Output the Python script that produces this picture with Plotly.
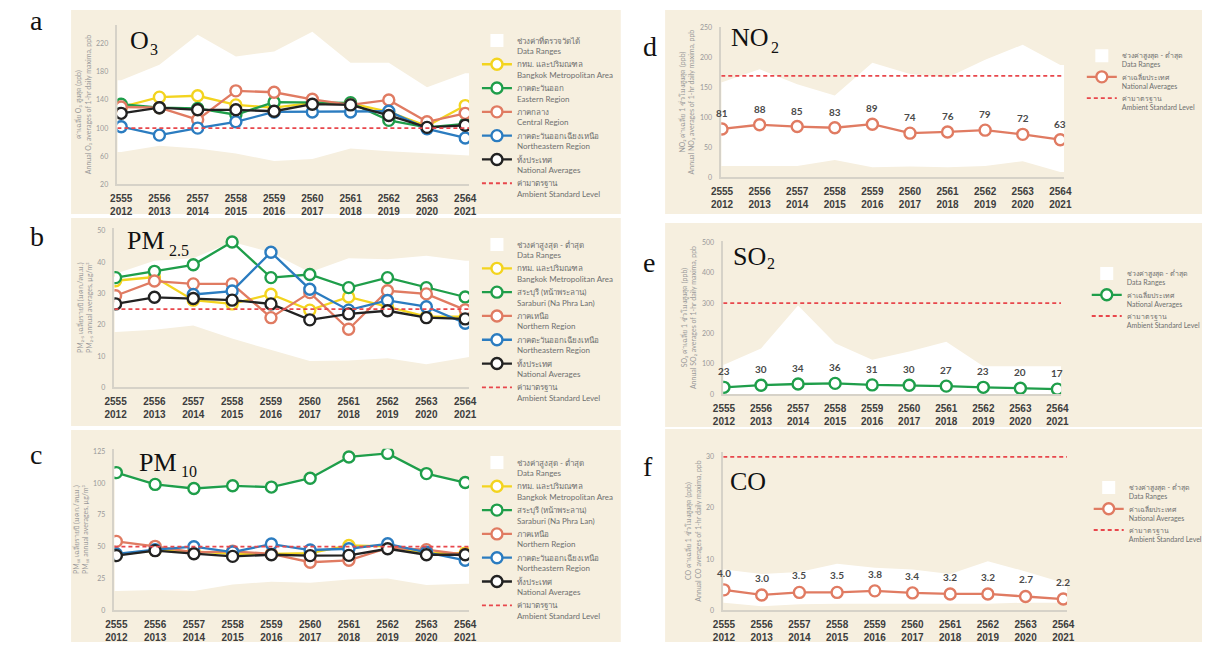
import plotly.graph_objects as go

W, H = 1210, 645

# ---------------- data ----------------
years_be = ["2555", "2556", "2557", "2558", "2559", "2560", "2561", "2562", "2563", "2564"]
years_ce = ["2012", "2013", "2014", "2015", "2016", "2017", "2018", "2019", "2020", "2021"]

# O3, annual averages of 1-hr daily maxima (ppb)
o3_range_max = [168, 190, 233, 202, 209, 237, 193, 193, 158, 178]
o3_range_min = [66, 75, 71, 64, 53, 56, 71, 67, 64, 61]
o3_bangkok = [130, 144, 146, 133, 129, 136, 135, 123, 103, 132]
o3_eastern = [134, 129, 128, 119, 137, 136, 136, 111, 101, 106]
o3_central = [130, 129, 112, 153, 151, 141, 133, 140, 109, 121]
o3_northeast = [102, 90, 100, 109, 123, 123, 123, 124, 99, 86]
o3_national = [121, 129, 126, 126, 124, 134, 133, 118, 101, 104]
o3_standard = 100

# PM2.5 annual averages (ug/m3)
pm25_range_max = [36.3, 40.5, 41.3, 46.5, 43.2, 36.8, 41.3, 41.0, 42.1, 40.5]
pm25_range_min = [17.7, 18.4, 19.8, 15.6, 12.1, 8.4, 8.6, 9.3, 7.4, 9.7]
pm25_bangkok = [34.1, 35.3, 27.9, 26.7, 29.8, 24.7, 28.9, 25.8, 22.6, 22.6]
pm25_saraburi = [35.1, 37.1, 39.2, 46.5, 35.1, 36.1, 31.9, 35.1, 31.9, 28.9]
pm25_northern = [29.3, 34.0, 33.1, 33.1, 22.3, 30.3, 18.6, 30.9, 29.9, 24.8]
pm25_northeast = [None, None, 29.7, 30.8, 43.2, 31.4, 24.7, 27.8, 25.8, 20.5]
pm25_national = [26.7, 28.8, 28.4, 27.9, 26.7, 21.6, 23.5, 24.5, 22.3, 21.9]
pm25_standard = 25

# PM10 annual averages (ug/m3)
pm10_range_max = [109, 100, 97, 99, 98, 105, 121, 124, 108, 101]
pm10_range_min = [15.1, 15.9, 15.1, 20.3, 22.4, 21.6, 24.2, 25.0, 19.8, 20.8]
pm10_bangkok = [43.7, 47.1, 46.4, 44.3, 44.3, 45.0, 51.0, 50.3, 45.0, 45.0]
pm10_saraburi = [108.3, 99.0, 95.8, 97.9, 96.9, 103.9, 120.6, 123.4, 107.5, 100.5]
pm10_northern = [54.2, 50.3, 45.6, 46.4, 44.3, 37.8, 39.3, 49.0, 47.7, 43.7]
pm10_northeast = [44.3, 47.7, 50.0, 45.8, 52.1, 47.4, 48.4, 52.3, 45.6, 39.3]
pm10_national = [43.0, 46.9, 44.5, 42.4, 43.7, 43.0, 43.2, 48.4, 43.7, 43.7]
pm10_standard = 50

# NO2, annual averages of 1-hr daily maxima (ppb)
no2_range_max = [159, 181, 156, 137, 192, 173, 167, 197, 222, 188]
no2_range_min = [19, 19, 19, 29, 17, 18, 17, 19, 27, 9]
no2_national = [81, 88, 85, 83, 89, 74, 76, 79, 72, 63]
no2_standard = 170

# SO2, annual averages of 1-hr daily maxima (ppb)
so2_range_max = [97, 151, 292, 168, 114, 141, 173, 92, 92, 92]
so2_range_min = [0, 0, 0, 0, 0, 0, 0, 0, 0, 0]
so2_national = [23, 30, 34, 36, 31, 30, 27, 23, 20, 17]
so2_standard = 300

# CO, annual averages of 1-hr daily maxima
co_range_max = [8.0, 7.1, 7.5, 9.1, 8.3, 8.0, 7.1, 9.6, 7.6, 5.4]
co_range_min = [1.5, 0.8, 1.2, 1.3, 1.3, 1.3, 1.3, 1.3, 1.5, 1.5]
co_national = [4.0, 3.0, 3.5, 3.5, 3.8, 3.4, 3.2, 3.2, 2.7, 2.2]
co_standard = 30

# ---------------- styling ----------------
BEIGE = "#f6efdf"
YELLOW = "#f3d41f"
GREEN = "#1f9e4a"
SALMON = "#e07b62"
BLUE = "#2b7cc0"
BLACK = "#222222"
STD_RED = "#e8474c"
TICK_GREY = "#9a9a9a"
LEG_GREY = "#6f6f6f"
SANS = "Lato, 'Noto Sans', 'DejaVu Sans', sans-serif"
SERIF = "'Liberation Serif', 'Times New Roman', serif"

TH_RANGE_ALL = "ช่วงค่าที่ตรวจวัดได้"
TH_RANGE = "ช่วงค่าสูงสุด - ต่ำสุด"
TH_STD = "ค่ามาตรฐาน"

fig = go.Figure()


def px_dom_x(x0, x1):
    return [x0 / W, x1 / W]


def px_dom_y(top, bottom):
    return [1 - bottom / H, 1 - top / H]


def add_panel(idx, box, xr, yr, yticks, ytitle):
    """Create axis pair number idx inside a pixel box (left, right, top, bottom)."""
    sx = "" if idx == 1 else str(idx)
    fig.layout["xaxis" + sx] = dict(
        domain=px_dom_x(box[0], box[1]), range=xr, anchor="y" + sx,
        tickmode="array", tickvals=list(range(len(years_be))),
        ticktext=[f"{a}<br>{b}" for a, b in zip(years_be, years_ce)],
        showgrid=False, zeroline=False, showline=True, linecolor="#d6d2c8", linewidth=1.5,
        ticks="", ticklabelstandoff=4,
        tickfont=dict(family="'Liberation Sans', Arial, sans-serif", size=10, color="#3d3d3d", weight=700),
    )
    fig.layout["yaxis" + sx] = dict(
        domain=px_dom_y(box[2], box[3]), range=yr, anchor="x" + sx,
        tickmode="array", tickvals=yticks,
        showgrid=False, zeroline=False, showline=True, linecolor="#d6d2c8", linewidth=1.5,
        ticks="", ticklabelstandoff=6,
        tickfont=dict(family=SANS, size=7, color=TICK_GREY),
        title=dict(text=ytitle, font=dict(family=SANS, size=7, color=TICK_GREY), standoff=4),
    )
    return "x" + sx, "y" + sx


def add_band(xa, ya, lo, hi, xr, leg):
    xs = [xr[0]] + list(range(len(lo))) + [xr[1]]
    lo_e = [lo[0]] + list(lo) + [lo[-1]]
    hi_e = [hi[0]] + list(hi) + [hi[-1]]
    fig.add_trace(go.Scatter(x=xs, y=lo_e, mode="lines", line=dict(width=0), xaxis=xa, yaxis=ya,
                             showlegend=False, hoverinfo="skip", legend=leg))
    fig.add_trace(go.Scatter(x=xs, y=hi_e, mode="lines", line=dict(width=0), fill="tonexty",
                             fillcolor="white", xaxis=xa, yaxis=ya, showlegend=False,
                             hoverinfo="skip", legend=leg))


def add_range_key(xa, ya, label, leg):
    fig.add_trace(go.Scatter(x=[None], y=[None], mode="markers", xaxis=xa, yaxis=ya,
                             marker=dict(symbol="square", size=13, color="white",
                                         line=dict(width=0)),
                             name=label, legend=leg))


def add_series(xa, ya, vals, color, label, leg):
    fig.add_trace(go.Scatter(x=list(range(len(vals))), y=vals, mode="lines+markers",
                             xaxis=xa, yaxis=ya, name=label, legend=leg,
                             line=dict(color=color, width=2.3),
                             marker=dict(symbol="circle", size=11, color="white",
                                         line=dict(color=color, width=2.4))))


def add_standard(xa, ya, value, xr, leg):
    fig.add_trace(go.Scatter(x=[xr[0], xr[1]], y=[value, value], mode="lines", xaxis=xa, yaxis=ya,
                             name=f"{TH_STD}<br>Ambient Standard Level", legend=leg,
                             line=dict(color=STD_RED, width=1.8, dash="4px,3px")))


def add_value_labels(xa, ya, vals, fmt, shift):
    for i, v in enumerate(vals):
        fig.add_annotation(x=i, y=v, xref=xa, yref=ya, text=format(v, fmt), showarrow=False,
                           yshift=shift, font=dict(family=SANS, size=10, color="#4a4a4a", weight=700))


def add_legend(name, x, y, size):
    fig.layout[name] = dict(x=x / W, y=1 - y / H, xanchor="left", yanchor="top",
                            bgcolor="rgba(0,0,0,0)", valign="top", traceorder="normal",
                            font=dict(family=SANS, size=size, color=LEG_GREY),
                            itemwidth=30, tracegroupgap=0)


def add_label(text, x, y, size):
    fig.add_annotation(xref="paper", yref="paper", x=x / W, y=1 - y / H, xanchor="left", yanchor="top",
                       text=text, showarrow=False, font=dict(family=SERIF, size=size, color="#111"))


# beige panel backgrounds
for (x0, x1, y0, y1) in [(62, 620, 7, 213), (62, 620, 217, 427), (62, 620, 431, 645),
                         (665, 1210, 7, 213), (665, 1210, 222, 428), (665, 1210, 430, 645)]:
    fig.add_shape(type="rect", xref="paper", yref="paper", x0=x0 / W, x1=x1 / W,
                  y0=1 - y1 / H, y1=1 - y0 / H, fillcolor=BEIGE, line=dict(width=0), layer="below")

# ---- panel a : O3 ----
xr = [-0.1, 9.1]
xa, ya = add_panel(1, (109, 466, 22, 183), xr, [20, 247], [20, 60, 100, 140, 180, 220],
                   "ค่าเฉลี่ย O₃ สูงสุด (ppb)<br>Annual O₃ averages of 1-hr daily maxima, ppb")
add_band(xa, ya, o3_range_min, o3_range_max, xr, "legend")
add_range_key(xa, ya, f"{TH_RANGE_ALL}<br>Data Ranges", "legend")
add_series(xa, ya, o3_bangkok, YELLOW, "กทม. และปริมณฑล<br>Bangkok Metropolitan Area", "legend")
add_series(xa, ya, o3_eastern, GREEN, "ภาคตะวันออก<br>Eastern Region", "legend")
add_series(xa, ya, o3_central, SALMON, "ภาคกลาง<br>Central Region", "legend")
add_series(xa, ya, o3_northeast, BLUE, "ภาคตะวันออกเฉียงเหนือ<br>Northeastern Region", "legend")
add_series(xa, ya, o3_national, BLACK, "ทั้งประเทศ<br>National Averages", "legend")
add_standard(xa, ya, o3_standard, xr, "legend")
add_legend("legend", 474, 26, 8)

# ---- panel b : PM2.5 ----
xr = [-0.03, 9.1]
xa, ya = add_panel(2, (106, 466, 227, 388), xr, [0, 51], [0, 10, 20, 30, 40, 50],
                   "PM₂.₅ เฉลี่ยรายปี (มคก./ลบ.ม.)<br>PM₂.₅ annual averages, µg/m³")
add_band(xa, ya, pm25_range_min, pm25_range_max, xr, "legend2")
add_range_key(xa, ya, f"{TH_RANGE}<br>Data Ranges", "legend2")
add_series(xa, ya, pm25_bangkok, YELLOW, "กทม. และปริมณฑล<br>Bangkok Metropolitan Area", "legend2")
add_series(xa, ya, pm25_saraburi, GREEN, "สระบุรี (หน้าพระลาน)<br>Saraburi (Na Phra Lan)", "legend2")
add_series(xa, ya, pm25_northern, SALMON, "ภาคเหนือ<br>Northern Region", "legend2")
add_series(xa, ya, pm25_northeast, BLUE, "ภาคตะวันออกเฉียงเหนือ<br>Northeastern Region", "legend2")
add_series(xa, ya, pm25_national, BLACK, "ทั้งประเทศ<br>National Averages", "legend2")
add_standard(xa, ya, pm25_standard, xr, "legend2")
add_legend("legend2", 474, 232, 8)

# ---- panel c : PM10 ----
xr = [-0.05, 9.1]
xa, ya = add_panel(3, (106, 466, 450, 613), xr, [0, 127], [0, 25, 50, 75, 100, 125],
                   "PM₁₀ เฉลี่ยรายปี (มคก./ลบ.ม.)<br>PM₁₀ annual averages, µg/m³")
add_band(xa, ya, pm10_range_min, pm10_range_max, xr, "legend3")
add_range_key(xa, ya, f"{TH_RANGE}<br>Data Ranges", "legend3")
add_series(xa, ya, pm10_bangkok, YELLOW, "กทม. และปริมณฑล<br>Bangkok Metropolitan Area", "legend3")
add_series(xa, ya, pm10_saraburi, GREEN, "สระบุรี (หน้าพระลาน)<br>Saraburi (Na Phra Lan)", "legend3")
add_series(xa, ya, pm10_northern, SALMON, "ภาคเหนือ<br>Northern Region", "legend3")
add_series(xa, ya, pm10_northeast, BLUE, "ภาคตะวันออกเฉียงเหนือ<br>Northeastern Region", "legend3")
add_series(xa, ya, pm10_national, BLACK, "ทั้งประเทศ<br>National Averages", "legend3")
add_standard(xa, ya, pm10_standard, xr, "legend3")
add_legend("legend3", 474, 452, 8)

# ---- panel d : NO2 ----
xr = [-0.02, 9.1]
xa, ya = add_panel(4, (722, 1070, 24, 176), xr, [0, 252], [0, 50, 100, 150, 200, 250],
                   "NO₂ ค่าเฉลี่ย 1 ชั่วโมงสูงสุด (ppb)<br>Annual NO₂ averages of 1-hr daily maxima, ppb")
add_band(xa, ya, no2_range_min, no2_range_max, xr, "legend4")
add_range_key(xa, ya, f"{TH_RANGE}<br>Data Ranges", "legend4")
add_series(xa, ya, no2_national, SALMON, "ค่าเฉลี่ยประเทศ<br>National Averages", "legend4")
add_standard(xa, ya, no2_standard, xr, "legend4")
add_value_labels(xa, ya, no2_national, "d", 16)
add_legend("legend4", 1088, 42, 7)

# ---- panel e : SO2 ----
xr = [-0.02, 9.1]
xa, ya = add_panel(5, (724, 1067, 240, 395), xr, [0, 505], [0, 100, 200, 300, 400, 500],
                   "SO₂ ค่าเฉลี่ย 1 ชั่วโมงสูงสุด (ppb)<br>Annual SO₂ averages of 1-hr daily maxima, ppb")
add_band(xa, ya, so2_range_min, so2_range_max, xr, "legend5")
add_range_key(xa, ya, f"{TH_RANGE}<br>Data Ranges", "legend5")
add_series(xa, ya, so2_national, GREEN, "ค่าเฉลี่ยประเทศ<br>National Averages", "legend5")
add_standard(xa, ya, so2_standard, xr, "legend5")
add_value_labels(xa, ya, so2_national, "d", 16)
add_legend("legend5", 1093, 262, 7)

# ---- panel f : CO ----
xr = [-0.02, 9.1]
xa, ya = add_panel(6, (724, 1073, 453, 613), xr, [0, 31], [0, 10, 20, 30],
                   "CO ค่าเฉลี่ย 1 ชั่วโมงสูงสุด (ppb)<br>Annual CO averages of 1-hr daily maxima, ppb")
add_band(xa, ya, co_range_min, co_range_max, xr, "legend6")
add_range_key(xa, ya, f"{TH_RANGE}<br>Data Ranges", "legend6")
add_series(xa, ya, co_national, SALMON, "ค่าเฉลี่ยประเทศ<br>National Averages", "legend6")
add_standard(xa, ya, co_standard, xr, "legend6")
add_value_labels(xa, ya, co_national, ".1f", 17)
add_legend("legend6", 1095, 478, 7)

# panel letters
for letter, x, y in [("a", 18, 0), ("b", 18, 218), ("c", 18, 438),
                     ("d", 641, 26), ("e", 641, 244), ("f", 641, 450)]:
    add_label(letter, x, y, 28)

# pollutant names, with their subscripts set as smaller text
for main, x, y in [("O", 120, 21), ("PM", 117, 223), ("PM", 129, 447),
                   ("NO", 730, 18), ("SO", 732, 239), ("CO", 729, 466)]:
    add_label(main, x, y, 26)
for sub, x, y in [("3", 140, 36), ("2.5", 159, 239), ("10", 172, 462),
                  ("2", 770, 34), ("2", 766, 252)]:
    add_label(sub, x, y, 16)

fig.update_layout(width=W, height=H, margin=dict(l=0, r=0, t=0, b=0),
                  paper_bgcolor="white", plot_bgcolor="rgba(0,0,0,0)", showlegend=True)

fig.write_html("out.html")
